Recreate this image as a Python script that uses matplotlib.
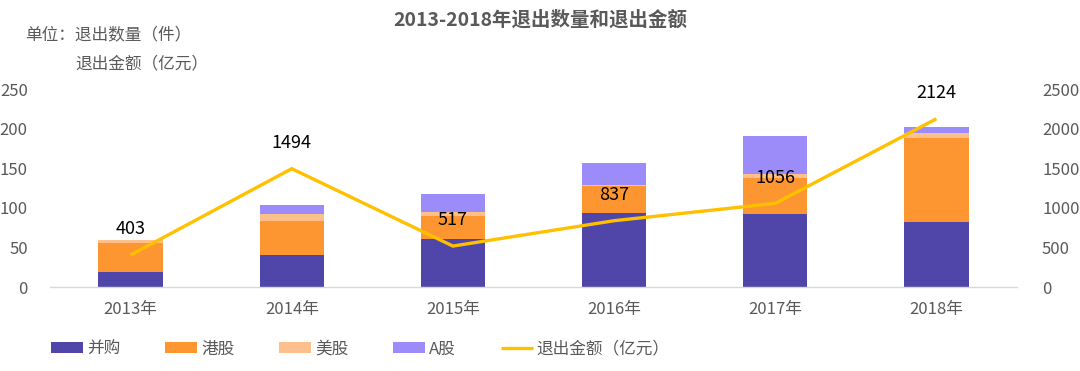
import matplotlib
matplotlib.use('Agg')
import matplotlib.pyplot as plt
import numpy as np

plt.rcParams['font.family'] = ['Noto Sans CJK SC', 'DejaVu Sans']

years = ['2013年', '2014年', '2015年', '2016年', '2017年', '2018年']
mna = [19, 40, 61, 93, 92, 82]          # 并购
hk = [36, 43, 29, 34, 46, 106]          # 港股
us = [4, 9, 5, 2, 5, 6]                 # 美股
ashare = [0, 11, 23, 28, 48, 8]         # A股
amount = [403, 1494, 517, 837, 1056, 2124]  # 退出金额（亿元）

colors = ['#5046AA', '#FD9630', '#FDC08A', '#9C8CF9']
line_color = '#FFC000'
grey = '#595959'

fig = plt.figure(figsize=(10.8, 3.71), dpi=100)
ax = fig.add_axes([50 / 1080, 1 - 287 / 371, 967 / 1080, 198 / 371])
ax2 = ax.twinx()

x = np.arange(len(years))
bottom = np.zeros(len(years))
names = ['并购', '港股', '美股', 'A股']
handles = []
for vals, c, name in zip([mna, hk, us, ashare], colors, names):
    b = ax.bar(x, vals, 0.4, bottom=bottom, color=c, label=name, zorder=2)
    handles.append(b)
    bottom += np.array(vals)

ln, = ax2.plot(x, amount, color=line_color, lw=2.4, label='退出金额（亿元）',
               solid_capstyle='butt', solid_joinstyle='miter')
handles.append(ln)
for xi, v in zip(x, amount):
    ax2.annotate(str(v), (xi, v), xytext=(0, 12), textcoords='offset points',
                 ha='center', va='bottom', fontsize=13, color='black')

ax.set_xlim(-0.5, 5.5)
ax.set_ylim(0, 250)
ax2.set_ylim(0, 2500)
ax.set_yticks(range(0, 251, 50))
ax2.set_yticks(range(0, 2501, 500))
ax.set_xticks(x)
ax.set_xticklabels(years)

for a in (ax, ax2):
    for s in a.spines.values():
        s.set_visible(False)
    a.tick_params(length=0, labelsize=12, labelcolor=grey)
ax.spines['bottom'].set_visible(True)
ax.spines['bottom'].set_color('#D9D9D9')
ax.spines['bottom'].set_linewidth(1)
ax.tick_params(axis='x', pad=10)
ax.tick_params(axis='y', pad=16)
ax2.tick_params(axis='y', pad=18)

fig.text(0.5, 1 - 20 / 371, '2013-2018年退出数量和退出金额', ha='center', va='center',
         fontsize=14, fontweight='bold', color=grey)
fig.text(25 / 1080, 1 - 35 / 371, '单位：退出数量（件）', ha='left', va='center',
         fontsize=12, color=grey)
fig.text(75 / 1080, 1 - 64 / 371, '退出金额（亿元）', ha='left', va='center',
         fontsize=12, color=grey)

fig.legend(handles=handles, labels=names + ['退出金额（亿元）'], loc='center left',
           bbox_to_anchor=(36 / 1080, 1 - 349 / 371), ncol=5, frameon=False,
           fontsize=12, handlelength=1.9, handleheight=0.6, handletextpad=0.25,
           columnspacing=2.7, labelcolor=grey)

fig.savefig('out.png', dpi=100)
